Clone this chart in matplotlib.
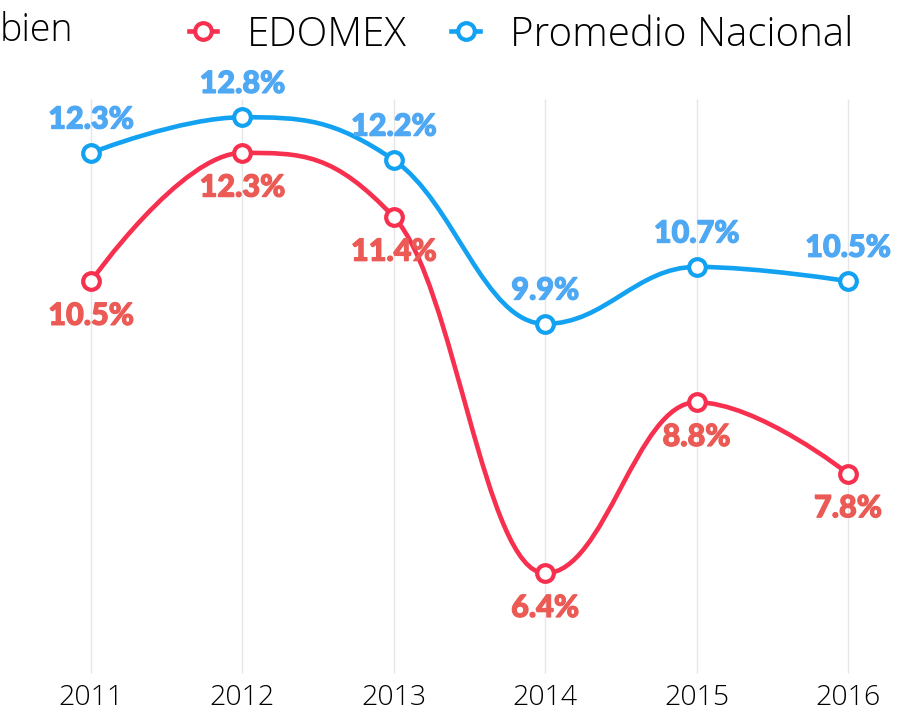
from matplotlib import pyplot as plt
from matplotlib.path import Path
from matplotlib.patches import PathPatch
from matplotlib.lines import Line2D
import matplotlib.patheffects as pe

years = [2011, 2012, 2013, 2014, 2015, 2016]
edomex = [10.5, 12.3, 11.4, 6.4, 8.8, 7.8]
nacional = [12.3, 12.8, 12.2, 9.9, 10.7, 10.5]
series_names = ['EDOMEX', 'Promedio Nacional']

RED_LINE = '#F6304E'
RED_TEXT = '#EB5A55'
BLUE_LINE = '#13A1F1'
BLUE_TEXT = '#4FA8F4'
TEXT_FONT = 'Open Sans'
LABEL_FONT = 'Lato'


def spline_path(xs, ys, smoothing=1.5):
    """Smooth bezier path through the points (clamped so it does not overshoot)"""
    denom = smoothing + 1
    left = [(x, y) for x, y in zip(xs, ys)]
    right = [(x, y) for x, y in zip(xs, ys)]
    for i in range(1, len(xs) - 1):
        px, py = xs[i], ys[i]
        lx, ly = xs[i - 1], ys[i - 1]
        nx, ny = xs[i + 1], ys[i + 1]
        lcx = (smoothing * px + lx) / denom
        lcy = (smoothing * py + ly) / denom
        rcx = (smoothing * px + nx) / denom
        rcy = (smoothing * py + ny) / denom
        corr = (rcy - lcy) * (rcx - px) / (rcx - lcx) + py - rcy
        lcy += corr
        rcy += corr
        if lcy > ly and lcy > py:
            lcy = max(ly, py)
            rcy = 2 * py - lcy
        elif lcy < ly and lcy < py:
            lcy = min(ly, py)
            rcy = 2 * py - lcy
        if rcy > ny and rcy > py:
            rcy = max(ny, py)
            lcy = 2 * py - rcy
        elif rcy < ny and rcy < py:
            rcy = min(ny, py)
            lcy = 2 * py - rcy
        left[i] = (lcx, lcy)
        right[i] = (rcx, rcy)
    verts = [(xs[0], ys[0])]
    codes = [Path.MOVETO]
    for i in range(1, len(xs)):
        verts += [right[i - 1], left[i], (xs[i], ys[i])]
        codes += [Path.CURVE4] * 3
    return Path(verts, codes)


def draw_series(ax, values, line_color, text_color, offset):
    ax.add_patch(PathPatch(spline_path(years, values), facecolor='none',
                           edgecolor=line_color, linewidth=3.3, zorder=3,
                           capstyle='round'))
    ax.plot(years, values, linestyle='none', marker='o', markersize=12,
            markerfacecolor='white', markeredgecolor=line_color,
            markeredgewidth=3, zorder=4)
    for x, v in zip(years, values):
        ax.annotate(f'{v:.1f}%', (x, v), xytext=(0, offset), textcoords='offset points',
                    ha='center', va='center', color=text_color, fontsize=22,
                    family=LABEL_FONT, fontweight='black', zorder=5,
                    path_effects=[pe.withStroke(linewidth=0.9, foreground=text_color)])


fig = plt.figure(figsize=(8.97, 7.15), dpi=100, facecolor='white')
ax = fig.add_axes([0, 1 - 673 / 715, 1, 570 / 715])
ax.set_xlim(2010.399, 2016.324)
ax.set_ylim(5, 13)

ax.vlines(years, 5, 13.05, color='#e6e6e6', linewidth=1, zorder=1, clip_on=False)

draw_series(ax, edomex, RED_LINE, RED_TEXT, -25)
draw_series(ax, nacional, BLUE_LINE, BLUE_TEXT, 24)

ax.set_xticks(years)
ax.set_xticklabels([str(y) for y in years], fontsize=20.5, family=TEXT_FONT,
                   fontweight='light', color='black')
ax.tick_params(axis='x', length=0, pad=8)
ax.set_yticks([])
for spine in ax.spines.values():
    spine.set_visible(False)

fig.text(73 / 897, 1 - 31 / 715, 'bien', ha='right', va='center', fontsize=27,
         family=TEXT_FONT, fontweight='light', color='black')

handles = [Line2D([], [], color=c, linewidth=3.3, marker='o', markersize=12,
                  markerfacecolor='white', markeredgecolor=c, markeredgewidth=3)
           for c in (RED_LINE, BLUE_LINE)]
leg = fig.legend(handles, series_names, loc='center', ncol=2, frameon=False,
                 bbox_to_anchor=(521 / 897, 1 - 35 / 715),
                 prop={'family': TEXT_FONT, 'weight': 'light', 'size': 29},
                 handlelength=0.7, handletextpad=0.75, columnspacing=1.1,
                 labelcolor='black')

fig.savefig('out.png', dpi=100, facecolor='white')
